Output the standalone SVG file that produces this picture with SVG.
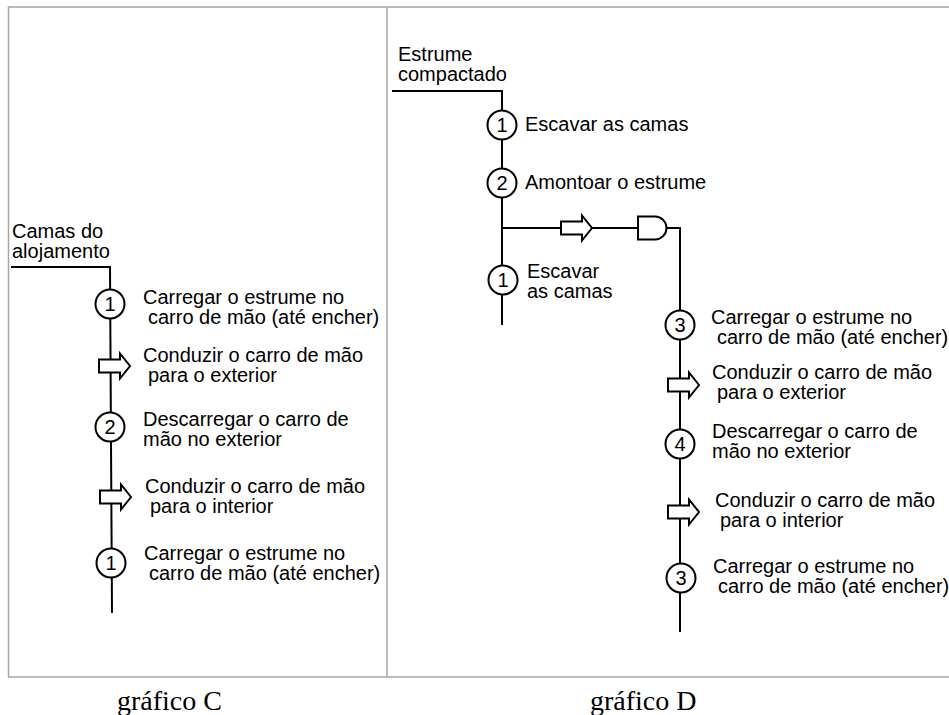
<svg xmlns="http://www.w3.org/2000/svg" width="949" height="715" viewBox="0 0 949 715">
<style>
  .frame{fill:none;stroke:#a6a6a6;stroke-width:1.5}
  .conn{fill:none;stroke:#000;stroke-width:2}
  .op{fill:#fff;stroke:#000;stroke-width:2}
  .num{font-family:"Liberation Sans",Arial,sans-serif;font-size:20px;text-anchor:middle;fill:#000}
  .lbl{font-family:"Liberation Sans",Arial,sans-serif;font-size:20px;fill:#000}
  .cap{font-family:"Liberation Serif","Times New Roman",serif;font-size:28px;fill:#000}
</style>
<defs>
  <path id="arrow" d="M-11,-6.5 H10 V-12.5 L20,0 L10,12.5 V6.5 H-11 Z"/>
</defs>
<rect width="949" height="715" fill="#fff"/>
<g id="frame">
  <path class="frame" d="M960,7 H8.5 V677 H960"/>
  <line class="frame" x1="387" y1="7" x2="387" y2="677"/>
</g>
<g id="connectors">
  <path class="conn" d="M11,267 H110 L112,613"/>
  <path class="conn" d="M392,91 H502 V325"/>
  <path class="conn" d="M502,228 H638"/>
  <path class="conn" d="M667,228 H680 V632"/>
</g>
<!-- Chart C -->
<g id="c-start"><text class="lbl" x="12" y="238">Camas do</text><text class="lbl" x="12" y="258">alojamento</text></g>
<g id="c-op1">
  <circle class="op" cx="110" cy="304" r="14.5"/><text class="num" x="110" y="311">1</text>
  <text class="lbl" x="143" y="304">Carregar o estrume no</text><text class="lbl" x="148" y="324">carro de mão (até encher)</text>
</g>
<g id="c-tr1">
  <use href="#arrow" class="op" transform="translate(110,366)"/>
  <text class="lbl" x="143" y="362">Conduzir o carro de mão</text><text class="lbl" x="148" y="382">para o exterior</text>
</g>
<g id="c-op2">
  <circle class="op" cx="110" cy="427" r="14.5"/><text class="num" x="110" y="434">2</text>
  <text class="lbl" x="143" y="426">Descarregar o carro de</text><text class="lbl" x="143" y="446">mão no exterior</text>
</g>
<g id="c-tr2">
  <use href="#arrow" class="op" transform="translate(111,497)"/>
  <text class="lbl" x="145" y="493">Conduzir o carro de mão</text><text class="lbl" x="150" y="513">para o interior</text>
</g>
<g id="c-op3">
  <circle class="op" cx="111" cy="563" r="14.5"/><text class="num" x="111" y="570">1</text>
  <text class="lbl" x="144" y="560">Carregar o estrume no</text><text class="lbl" x="149" y="580">carro de mão (até encher)</text>
</g>
<g id="c-caption"><text class="cap" x="117" y="710">gráfico C</text></g>
<!-- Chart D -->
<g id="d-start"><text class="lbl" x="398" y="61">Estrume</text><text class="lbl" x="398" y="81">compactado</text></g>
<g id="d-op1">
  <circle class="op" cx="502" cy="125" r="14.5"/><text class="num" x="502" y="132">1</text>
  <text class="lbl" x="525" y="131">Escavar as camas</text>
</g>
<g id="d-op2">
  <circle class="op" cx="502" cy="183" r="14.5"/><text class="num" x="502" y="190">2</text>
  <text class="lbl" x="525" y="189">Amontoar o estrume</text>
</g>
<g id="d-tr0"><use href="#arrow" class="op" transform="translate(572,228)"/></g>
<g id="d-delay"><path class="op" d="M638,216.5 H655 A11.5,11.5 0 0 1 655,239.5 H638 Z"/></g>
<g id="d-op1b">
  <circle class="op" cx="503" cy="280" r="14.5"/><text class="num" x="503" y="287">1</text>
  <text class="lbl" x="527" y="278">Escavar</text><text class="lbl" x="527" y="298">as camas</text>
</g>
<g id="d-op3">
  <circle class="op" cx="680" cy="325" r="14.5"/><text class="num" x="680" y="332">3</text>
  <text class="lbl" x="711" y="324">Carregar o estrume no</text><text class="lbl" x="717" y="344">carro de mão (até encher)</text>
</g>
<g id="d-tr1">
  <use href="#arrow" class="op" transform="translate(679,385)"/>
  <text class="lbl" x="712" y="379">Conduzir o carro de mão</text><text class="lbl" x="717" y="399">para o exterior</text>
</g>
<g id="d-op4">
  <circle class="op" cx="680" cy="444" r="14.5"/><text class="num" x="680" y="451">4</text>
  <text class="lbl" x="712" y="438">Descarregar o carro de</text><text class="lbl" x="712" y="458">mão no exterior</text>
</g>
<g id="d-tr2">
  <use href="#arrow" class="op" transform="translate(679,512)"/>
  <text class="lbl" x="715" y="507">Conduzir o carro de mão</text><text class="lbl" x="720" y="527">para o interior</text>
</g>
<g id="d-op5">
  <circle class="op" cx="681" cy="578" r="14.5"/><text class="num" x="681" y="585">3</text>
  <text class="lbl" x="713" y="573">Carregar o estrume no</text><text class="lbl" x="718" y="593">carro de mão (até encher)</text>
</g>
<g id="d-caption"><text class="cap" x="590" y="710">gráfico D</text></g>
</svg>
